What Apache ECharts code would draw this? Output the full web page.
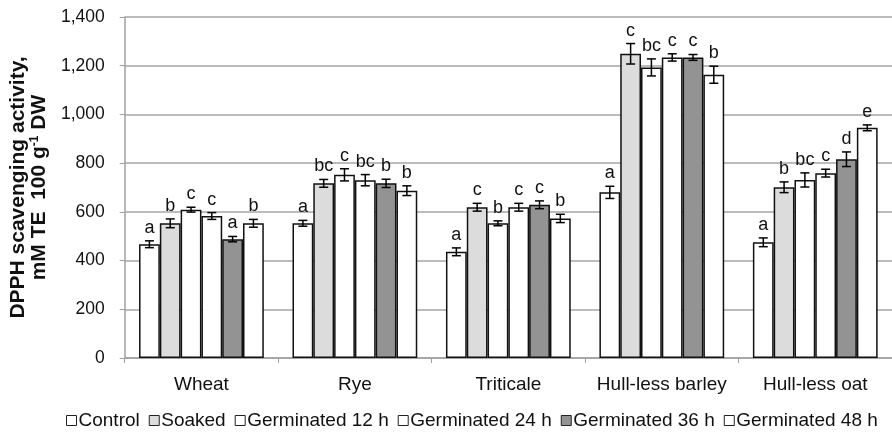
<!DOCTYPE html>
<html>
<head>
<meta charset="utf-8">
<script src="https://cdn.jsdelivr.net/npm/echarts@6/dist/echarts.min.js"></script>
<style>
  html, body { margin: 0; padding: 0; background: #fff; }
  #chart { width: 892px; height: 436px; }
</style>
</head>
<body>
<div id="chart"></div>
<script>
// categories and series
var grains = ['Wheat', 'Rye', 'Triticale', 'Hull-less barley', 'Hull-less oat'];
var treatments = ['Control', 'Soaked', 'Germinated 12 h', 'Germinated 24 h', 'Germinated 36 h', 'Germinated 48 h'];

// values per treatment (same order as grains)
var control = [467, 553, 436, 680, 475];
var soaked = [553, 717, 619, 1249, 701];
var germ12 = [609, 752, 553, 1193, 731];
var germ24 = [583, 730, 619, 1234, 759];
var germ36 = [488, 717, 629, 1234, 816];
var germ48 = [553, 687, 573, 1163, 945];

// error (+/-)
var errControl = [14, 12, 16, 25, 18];
var errSoaked = [18, 16, 16, 42, 22];
var errGerm12 = [10, 25, 10, 35, 29];
var errGerm24 = [14, 23, 16, 15, 16];
var errGerm36 = [11, 17, 16, 12, 30];
var errGerm48 = [16, 20, 17, 35, 12];

// significance letters
var lettersControl = ['a', 'a', 'a', 'a', 'a'];
var lettersSoaked = ['b', 'bc', 'c', 'c', 'b'];
var lettersGerm12 = ['c', 'c', 'b', 'bc', 'bc'];
var lettersGerm24 = ['c', 'bc', 'c', 'c', 'c'];
var lettersGerm36 = ['a', 'b', 'c', 'c', 'd'];
var lettersGerm48 = ['b', 'b', 'b', 'b', 'e'];

var yTicks = [0, 200, 400, 600, 800, 1000, 1200, 1400];

var values = [control, soaked, germ12, germ24, germ36, germ48];
var errors = [errControl, errSoaked, errGerm12, errGerm24, errGerm36, errGerm48];
var letters = [lettersControl, lettersSoaked, lettersGerm12, lettersGerm24, lettersGerm36, lettersGerm48];
var fills = ['#ffffff', '#dcdcdc', '#ffffff', '#ffffff', '#939393', '#ffffff'];

var FONT = 'Liberation Sans, Arial, sans-serif';
var GAP = 0.187; // barCategoryGap

//误差线 + 字母
function errItem(si) {
    return function (params, api) {
        var ci = api.value(0), v = api.value(1), e = api.value(2);
        var band = api.size([1, 0])[0];
        var bw = band * (1 - GAP) / 6;
        var x = api.coord([ci, 0])[0] + (si - 2.5) * bw;
        var top = api.coord([ci, v + e])[1];
        var bot = api.coord([ci, v - e])[1];
        var cap = 4.5;
        var ls = { stroke: '#000', lineWidth: 1.5 };
        return {
            type: 'group',
            children: [
                { type: 'line', shape: { x1: x, y1: top, x2: x, y2: bot }, style: ls },
                { type: 'line', shape: { x1: x - cap, y1: top, x2: x + cap, y2: top }, style: ls },
                { type: 'line', shape: { x1: x - cap, y1: bot, x2: x + cap, y2: bot }, style: ls },
                {
                    type: 'text',
                    style: {
                        text: letters[si][params.dataIndex],
                        x: x, y: top - 4,
                        align: 'center', verticalAlign: 'bottom',
                        font: '18px ' + FONT, fill: '#111'
                    }
                }
            ]
        };
    };
}

var series = [];
treatments.forEach(function (name, si) {
    series.push({
        name: name,
        type: 'bar',
        barGap: '0%',
        barCategoryGap: (GAP * 100) + '%',
        data: values[si],
        itemStyle: { color: fills[si], borderColor: '#111', borderWidth: 1.5 },
        emphasis: { disabled: true },
        z: 2
    });
});
treatments.forEach(function (name, si) {
    series.push({
        type: 'custom',
        renderItem: errItem(si),
        data: values[si].map(function (v, i) { return [i, v, errors[si][i]]; }),
        encode: { x: 0, y: 1 },
        z: 5,
        silent: true
    });
});

var chart = echarts.init(document.getElementById('chart'), null, { renderer: 'canvas' });
chart.setOption({
    animation: false,
    backgroundColor: '#fff',
    grid: { left: 122, right: -6, top: 17, bottom: 78 },
    legend: {
        data: treatments,
        bottom: 1,
        left: 61,
        icon: 'rect',
        itemWidth: 10,
        itemHeight: 10,
        itemGap: 9,
        itemStyle: { borderWidth: 1, borderColor: '#222' },
        textStyle: { fontFamily: FONT, fontSize: 19, color: '#111', padding: [0, 0, 0, -3] }
    },
    xAxis: {
        type: 'category',
        data: grains,
        axisLine: { lineStyle: { color: '#a0a0a0', width: 1.5 } },
        axisTick: { show: true, length: 5, lineStyle: { color: '#a0a0a0' } },
        axisLabel: { interval: 0, fontFamily: FONT, fontSize: 19, color: '#111', margin: 17 }
    },
    yAxis: {
        type: 'value',
        min: 0, max: 1400, interval: 200,
        axisLine: { show: true, lineStyle: { color: '#a0a0a0', width: 1.5 } },
        axisTick: { show: true, length: 5, lineStyle: { color: '#a0a0a0' } },
        splitLine: { lineStyle: { color: '#a6a6a6', width: 1.5 } },
        axisLabel: {
            fontFamily: FONT, fontSize: 17.5, color: '#111', margin: 20,
            formatter: function (v) { return v.toLocaleString('en-US'); }
        },
        name: '{a|DPPH scavenging activity,}\n{a|mM TE  100 g}{sup|-1}{a| DW}',
        nameLocation: 'middle',
        nameGap: 72,
        nameTextStyle: {
            rich: {
                a: { fontFamily: FONT, fontSize: 21, fontWeight: 'bold', color: '#111', lineHeight: 21 },
                sup: { fontFamily: FONT, fontSize: 12, fontWeight: 'bold', color: '#111', verticalAlign: 'top', lineHeight: 21, padding: [0, 0, 9, 0] }
            }
        }
    },
    series: series
});
</script>
</body>
</html>
